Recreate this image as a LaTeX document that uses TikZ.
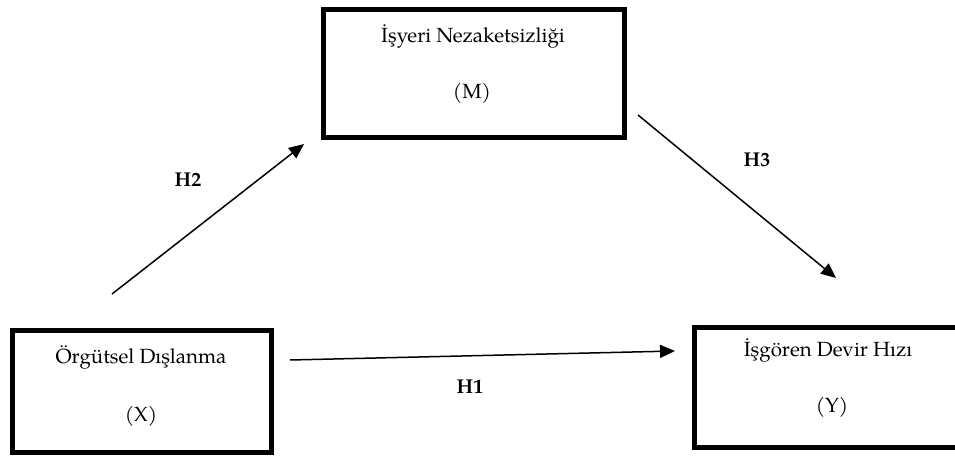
\documentclass[tikz,border=0pt]{standalone}
\usepackage{fontspec}
\setmainfont{TeX Gyre Pagella}
\usetikzlibrary{arrows.meta}
\tikzset{
  varbox/.style={draw=black, line width=5pt, rectangle, inner sep=0pt},
  boxtext/.style={inner sep=0pt, font=\fontsize{20.5}{24}\selectfont, anchor=center},
  hyplabel/.style={inner sep=0pt, font=\fontsize{20}{24}\selectfont\bfseries, anchor=center},
  patharrow/.style={line width=1.5pt, -{Triangle[length=15pt,width=13pt]}}
}
\begin{document}
\begin{tikzpicture}[x=1pt, y=-1pt]
\useasboundingbox (0,0) rectangle (955,455);
\begin{scope}
\clip (0,0) rectangle (955,455);
% boxes
\node[varbox, minimum width=301pt, minimum height=128pt] (M) at (474,73.5) {};
\node[varbox, minimum width=259pt, minimum height=122pt] (X) at (142,391.5) {};
\node[varbox, minimum width=271pt, minimum height=120pt] (Y) at (830,387.5) {};
\end{scope}
% texts
\node[boxtext] (Mt) at (473,36) {İşyeri Nezaketsizliği};
\node[boxtext] (Mv) at (472,93) {(M)};
\node[boxtext] (Xt) at (141,357) {Örgütsel Dışlanma};
\node[boxtext] (Xv) at (141,416) {(X)};
\node[boxtext] (Yt) at (828,350) {İşgören Devir Hızı};
\node[boxtext] (Yv) at (832,407) {(Y)};
% arrow end points
\coordinate (h2s) at (112,294);
\coordinate (h2e) at (304,144);
\coordinate (h3s) at (638,115);
\coordinate (h3e) at (836,278);
\coordinate (h1s) at (290,360);
\coordinate (h1e) at (675,351);
\draw[patharrow] (h2s) -- (h2e);
\draw[patharrow] (h3s) -- (h3e);
\draw[patharrow] (h1s) -- (h1e);
% labels
\node[hyplabel] (H2) at (188,180) {H2};
\node[hyplabel] (H3) at (757,160) {H3};
\node[hyplabel] (H1) at (470,387) {H1};
\end{tikzpicture}
\end{document}
